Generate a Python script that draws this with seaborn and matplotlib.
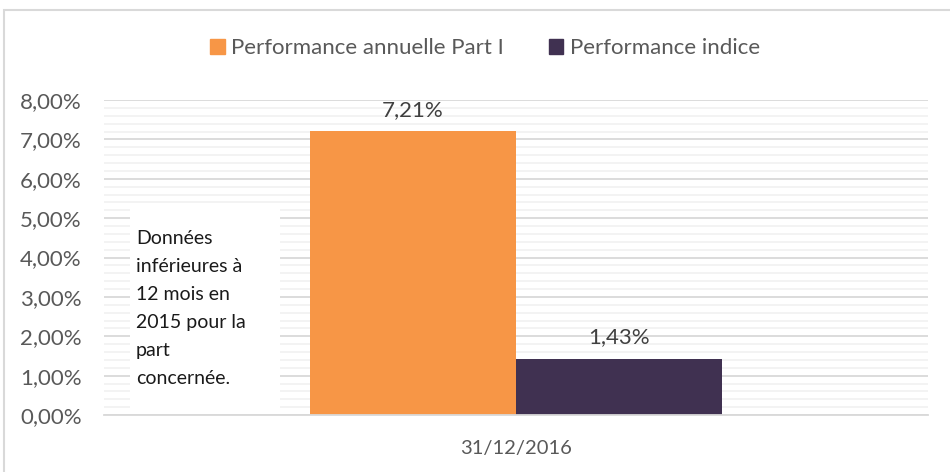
import matplotlib
matplotlib.use("Agg")
import matplotlib.pyplot as plt
import matplotlib.patches as mpatches
from matplotlib.ticker import MultipleLocator, FuncFormatter
import pandas as pd
import seaborn as sns

# données du graphique
dates = ["31/12/2016"]
series = ["Performance annuelle Part I", "Performance indice"]
part_values = [0.0721]
index_values = [0.0143]
colors = ["#F79646", "#403151"]
note = "Données\ninférieures à\n12 mois en\n2015 pour la\npart\nconcernée."

sns.set_theme(style="white")
plt.rcParams["font.family"] = ["Lato", "DejaVu Sans"]

df = pd.DataFrame({
    "date": dates * 2,
    "serie": [series[0]] * len(dates) + [series[1]] * len(dates),
    "valeur": part_values + index_values,
})

fig = plt.figure(figsize=(9.5, 4.72), dpi=100)
ax = fig.add_axes([104 / 950, 1 - 415 / 472, 824 / 950, 315 / 472])

sns.barplot(data=df, x="date", y="valeur", hue="serie", palette=colors,
            width=0.5, ax=ax, legend=False, saturation=1, linewidth=0, zorder=2)

ax.set_ylim(0, 0.08)
ax.set_xlim(-0.5, 0.5)
ax.yaxis.set_major_locator(MultipleLocator(0.01))
ax.yaxis.set_minor_locator(MultipleLocator(0.002))
fmt = lambda v, p: f"{v * 100:.2f}%".replace(".", ",")
ax.yaxis.set_major_formatter(FuncFormatter(fmt))
ax.set_axisbelow(True)
ax.grid(which="major", axis="y", color="#D9D9D9", linewidth=1.3)
ax.grid(which="minor", axis="y", color="#F2F2F2", linewidth=1.3)
for s in ["top", "right", "left"]:
    ax.spines[s].set_visible(False)
ax.spines["bottom"].set_color("#D9D9D9")
ax.spines["bottom"].set_linewidth(1.3)
ax.tick_params(axis="y", which="both", length=0, pad=16, labelsize=16, labelcolor="#595959")
ax.tick_params(axis="x", length=0, pad=18, labelsize=14.5, labelcolor="#595959")
ax.set_xlabel("")
ax.set_ylabel("")

for cont in ax.containers:
    ax.bar_label(cont, labels=[fmt(b.get_height(), None) for b in cont],
                 padding=8, fontsize=16, color="#404040")

# cadre du graphique
fig.patches.append(mpatches.Rectangle((4 / 950, 0 - 0.05), 1.1, 1 - 10 / 472 + 0.05,
                                      transform=fig.transFigure, fill=False,
                                      edgecolor="#D9D9D9", linewidth=1.5))

# encadré texte
ax.add_patch(mpatches.Rectangle((130 / 950, 1 - 413 / 472), 150 / 950, 210 / 472,
                                transform=fig.transFigure, facecolor="white",
                                edgecolor="none", zorder=1, clip_on=False))
fig.text(136 / 950, 1 - 230 / 472, note, va="top", ha="left", fontsize=14,
         color="#1a1a1a", linespacing=1.78, zorder=3)

handles = [mpatches.Patch(color=c, label=s) for c, s in zip(colors, series)]
fig.legend(handles=handles, loc="center", bbox_to_anchor=(485 / 950, 1 - 48 / 472),
           ncol=2, frameon=False, fontsize=16, labelcolor="#595959",
           handlelength=0.65, handleheight=0.65, handletextpad=0.3, columnspacing=2.0)

fig.savefig("out.png", dpi=100)
